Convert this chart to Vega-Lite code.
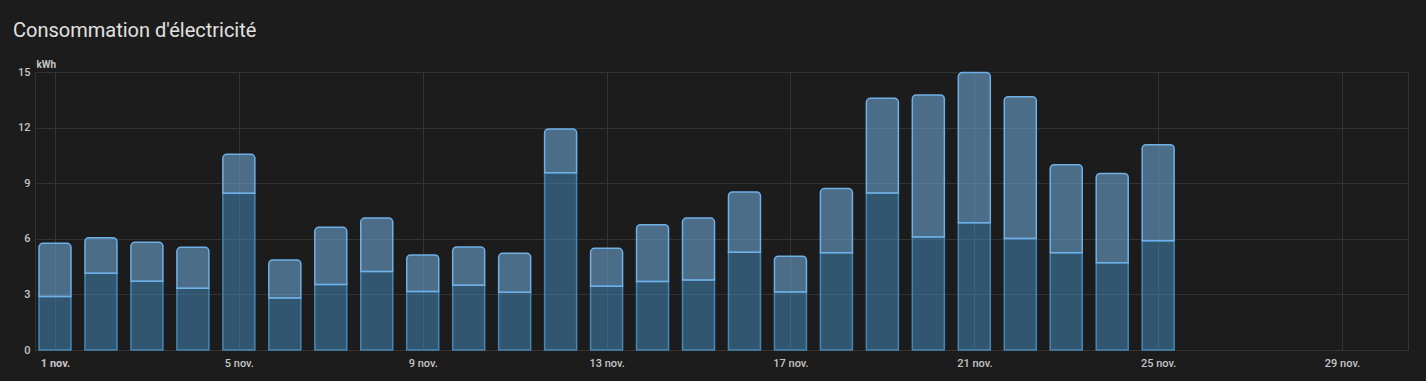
{
  "$schema": "https://vega.github.io/schema/vega-lite/v6.json",
  "autosize": "none",
  "width": 1373,
  "height": 278,
  "padding": {"left": 35, "top": 72, "right": 18, "bottom": 31},
  "background": "#1c1c1c",
  "title": {
    "text": "Consommation d'électricité",
    "anchor": "start",
    "frame": "group",
    "orient": "top",
    "font": "Roboto",
    "fontSize": 20,
    "fontWeight": "normal",
    "color": "#e1e1e1",
    "baseline": "alphabetic",
    "dx": -22,
    "offset": 2
  },
  "config": {
    "view": {"stroke": "#333333", "strokeWidth": 1},
    "axis": {
      "labelFont": "Roboto",
      "titleFont": "Roboto",
      "labelColor": "#c6c6c6",
      "titleColor": "#c6c6c6",
      "gridColor": "#333333",
      "gridWidth": 1,
      "domainColor": "#333333",
      "ticks": false
    }
  },
  "data": {
    "values": [
      {"jour": 1, "bas": 2.88, "total": 5.76},
      {"jour": 2, "bas": 4.14, "total": 6.06},
      {"jour": 3, "bas": 3.71, "total": 5.81},
      {"jour": 4, "bas": 3.33, "total": 5.54},
      {"jour": 5, "bas": 8.46, "total": 10.56},
      {"jour": 6, "bas": 2.81, "total": 4.86},
      {"jour": 7, "bas": 3.53, "total": 6.62},
      {"jour": 8, "bas": 4.23, "total": 7.12},
      {"jour": 9, "bas": 3.15, "total": 5.13},
      {"jour": 10, "bas": 3.49, "total": 5.56},
      {"jour": 11, "bas": 3.11, "total": 5.22},
      {"jour": 12, "bas": 9.57, "total": 11.93},
      {"jour": 13, "bas": 3.44, "total": 5.49},
      {"jour": 14, "bas": 3.69, "total": 6.76},
      {"jour": 15, "bas": 3.78, "total": 7.12},
      {"jour": 16, "bas": 5.27, "total": 8.53},
      {"jour": 17, "bas": 3.13, "total": 5.06},
      {"jour": 18, "bas": 5.25, "total": 8.71},
      {"jour": 19, "bas": 8.47, "total": 13.58},
      {"jour": 20, "bas": 6.10, "total": 13.76},
      {"jour": 21, "bas": 6.87, "total": 14.97},
      {"jour": 22, "bas": 6.01, "total": 13.67},
      {"jour": 23, "bas": 5.25, "total": 10.0},
      {"jour": 24, "bas": 4.71, "total": 9.53},
      {"jour": 25, "bas": 5.90, "total": 11.08}
    ]
  },
  "encoding": {
    "x": {
      "field": "jour",
      "type": "quantitative",
      "scale": {"domain": [0.565, 30.435], "nice": false, "zero": false, "padding": 0},
      "axis": {
        "title": null,
        "values": [1, 5, 9, 13, 17, 21, 25, 29],
        "labelExpr": "datum.value + ' nov.'",
        "labelFontSize": 11,
        "labelPadding": 7,
        "labelBaseline": "top",
        "labelFontWeight": {"condition": {"test": "datum.value == 1", "value": "bold"}, "value": 500},
        "grid": true,
        "domain": true
      }
    }
  },
  "layer": [
    {
      "mark": {"type": "bar", "width": 32, "fill": "#488fc2", "fillOpacity": 0.5, "stroke": "#488fc2", "strokeWidth": 1.5, "strokeOpacity": 0.9},
      "encoding": {
        "y": {
          "field": "bas",
          "type": "quantitative",
          "scale": {"domain": [0, 15], "nice": false},
          "axis": {
            "title": "kWh",
            "titleAngle": 0,
            "titleAlign": "left",
            "titleBaseline": "alphabetic",
            "titleX": 1,
            "titleY": -5,
            "titleFontSize": 10,
            "titleFontWeight": "bold",
            "values": [0, 3, 6, 9, 12, 15],
            "labelFontSize": 11,
            "labelFontWeight": 500,
            "labelPadding": 5,
            "grid": true,
            "domain": true
          }
        }
      }
    },
    {
      "mark": {"type": "bar", "width": 32, "fill": "#6fa8d8", "fillOpacity": 0.58, "stroke": "#6fb0e6", "strokeWidth": 1.5, "cornerRadiusTopLeft": 4, "cornerRadiusTopRight": 4},
      "encoding": {
        "y": {"field": "total", "type": "quantitative"},
        "y2": {"field": "bas"}
      }
    }
  ]
}
